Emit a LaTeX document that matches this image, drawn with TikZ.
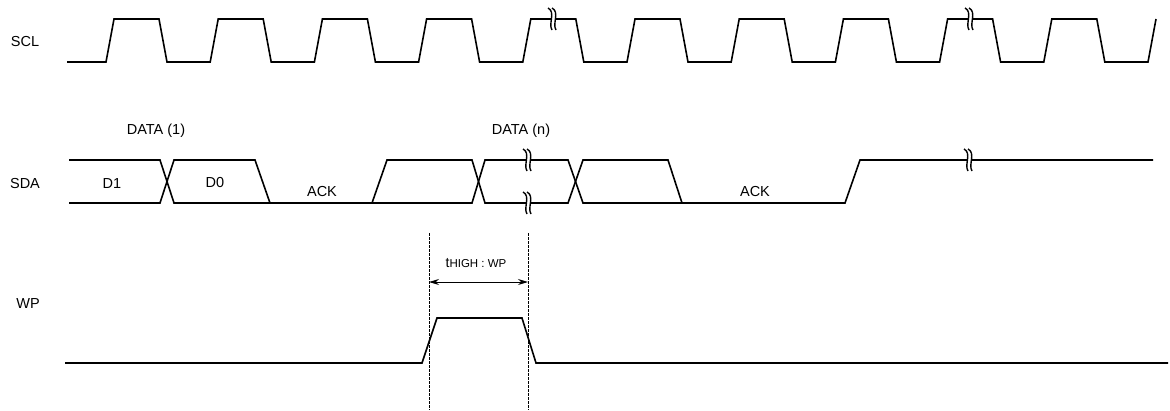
\documentclass[tikz,border=0pt]{standalone}
\usepackage{fontspec}
\setmainfont{Liberation Sans}
\usetikzlibrary{arrows.meta}
\begin{document}
\begin{tikzpicture}[x=1pt,y=-1pt,
  sig/.style={line width=1.6pt,line join=miter},
  lbl/.style={font=\fontsize{14.5}{16}\selectfont,inner sep=0pt},
  guide/.style={line width=0.7pt,dash pattern=on 2.5pt off 1.5pt},
  brk/.pic={
    \fill[white] (-4,-11) .. controls (4,-7) and (-4,5) .. (0,11) -- (4,11) .. controls (0,5) and (8,-7) .. (0,-11) -- cycle;
    \draw[line width=1.4pt] (-4,-11) .. controls (4,-7) and (-4,5) .. (0,11);
    \draw[line width=1.4pt] (0,-11) .. controls (8,-7) and (0,5) .. (4,11);
  }]
\useasboundingbox[fill=white] (0,0) rectangle (1170,410);

% labels
\node[lbl] (lscl) at (25,42) {SCL};
\node[lbl] (lsda) at (25,184) {SDA};
\node[lbl] (lwp) at (28,304) {WP};
\node[lbl] (d1lab) at (156,131) {DATA (1)};
\node[lbl] (dnlab) at (521,131) {DATA (n)};
\node[lbl] (d1) at (112,184) {D1};
\node[lbl] (d0) at (215,183) {D0};
\node[lbl] (ack1) at (322,192) {ACK};
\node[lbl] (ack2) at (755,192) {ACK};

% SCL
\draw[sig] (67,62)
  \foreach \i in {0,...,9} {
    -- ({106+104.2*\i},62) -- ({114+104.2*\i},19) -- ({159+104.2*\i},19) -- ({167+104.2*\i},62)
  } -- (1148,62) -- (1156,19);
\pic at (552,19) {brk};
\pic at (969,19) {brk};

% SDA
\draw[sig] (69,160) -- (160,160) -- (174,203) -- (372,203) -- (472,203) -- (485,160) -- (568,160) -- (583,203) -- (845,203) -- (860,160) -- (1153,160);
\draw[sig] (69,203) -- (160,203) -- (174,160) -- (255,160) -- (270,203);
\draw[sig] (372,203) -- (387,160) -- (472,160) -- (485,203) -- (568,203) -- (583,160) -- (668,160) -- (682,203);
\pic at (527,160) {brk};
\pic at (527,203) {brk};
\pic at (968,160) {brk};

% WP
\draw[sig] (65,363) -- (422,363) -- (437,318) -- (522,318) -- (536,363) -- (1168,363);

% timing
\coordinate (ga) at (429,233);
\coordinate (gb) at (528,233);
\coordinate (ga2) at (429,410);
\coordinate (gb2) at (528,410);
\draw[guide] (ga) -- (ga2);
\draw[guide] (gb) -- (gb2);
\coordinate (aa) at (429,282);
\coordinate (ab) at (528,282);
\draw[line width=0.9pt,{Stealth[length=10pt,width=6pt]}-{Stealth[length=10pt,width=6pt]}] (aa) -- (ab);
\node[inner sep=0pt] (tlab) at (476,263) {\fontsize{14}{15}\selectfont t\fontsize{11.5}{13}\selectfont HIGH : WP};
\end{tikzpicture}
\end{document}
